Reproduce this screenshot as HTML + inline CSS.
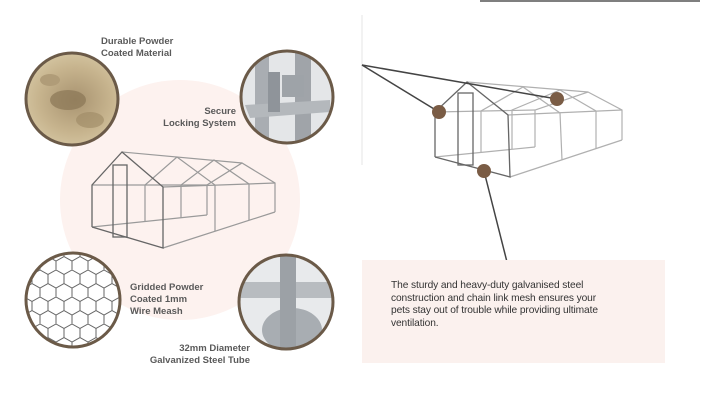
<!DOCTYPE html>
<html><head><meta charset="utf-8"><style>
html,body{margin:0;padding:0;background:#fff;}
body{width:720px;height:410px;overflow:hidden;position:relative;font-family:"Liberation Sans",sans-serif;}
.l{position:absolute;font-weight:bold;font-size:9.5px;line-height:12px;color:#5a5a5a;}
.box{position:absolute;left:362px;top:260px;width:303px;height:103px;background:#fbf1ee;}
.box p{margin:0;position:absolute;left:29px;top:20px;width:250px;font-size:10.2px;line-height:12.5px;color:#333;letter-spacing:-0.1px;}
</style></head><body>
<svg width="720" height="410" style="position:absolute;left:0;top:0">
<defs>
<clipPath id="c1"><circle cx="72" cy="99" r="46"/></clipPath>
<clipPath id="c2"><circle cx="287" cy="97" r="46"/></clipPath>
<clipPath id="c3"><circle cx="73" cy="300" r="47"/></clipPath>
<clipPath id="c4"><circle cx="286" cy="302" r="47"/></clipPath>
<radialGradient id="sand" cx="50%" cy="50%" r="55%"><stop offset="0" stop-color="#a89370"/><stop offset="0.6" stop-color="#c7b48e"/><stop offset="1" stop-color="#d9cba8"/></radialGradient>
<pattern id="hex" width="16" height="27" patternUnits="userSpaceOnUse"><path d="M0 4.5 L8 0 L16 4.5 L16 13.5 L8 18 L0 13.5 Z M8 18 L8 27" fill="none" stroke="#666" stroke-width="1"/></pattern>
</defs>
<circle cx="180" cy="200" r="120" fill="#fdf2ef"/>
<g clip-path="url(#c1)"><rect x="20" y="50" width="110" height="100" fill="url(#sand)"/>
<ellipse cx="68" cy="100" rx="18" ry="10" fill="#8a7656" opacity=".7"/><ellipse cx="50" cy="80" rx="10" ry="6" fill="#b09c78"/><ellipse cx="90" cy="120" rx="14" ry="8" fill="#9c8864" opacity=".6"/></g>
<circle cx="72" cy="99" r="46" fill="none" stroke="#6b5a48" stroke-width="3"/>
<g clip-path="url(#c2)"><rect x="235" y="45" width="110" height="110" fill="#e4e6e8"/>
<rect x="255" y="45" width="14" height="110" fill="#a9adb2"/><rect x="295" y="45" width="16" height="110" fill="#a0a4a9"/>
<rect x="282" y="75" width="22" height="22" fill="#9ea3a8"/><path d="M245 105 L330 100 L330 112 L250 118 Z" fill="#b4b8bc"/><rect x="268" y="72" width="12" height="40" fill="#8f949a"/></g>
<circle cx="287" cy="97" r="46" fill="none" stroke="#6b5a48" stroke-width="3"/>
<g clip-path="url(#c3)"><rect x="24" y="250" width="100" height="100" fill="#fff"/><rect x="24" y="250" width="100" height="100" fill="url(#hex)"/></g>
<circle cx="73" cy="300" r="47" fill="none" stroke="#6b5a48" stroke-width="3"/>
<g clip-path="url(#c4)"><rect x="237" y="253" width="100" height="100" fill="#e8eaec"/>
<ellipse cx="292" cy="330" rx="30" ry="22" fill="#a8adb2"/><rect x="237" y="282" width="100" height="16" fill="#b8bcc0"/><rect x="280" y="253" width="16" height="100" fill="#9ca1a6"/></g>
<circle cx="286" cy="302" r="47" fill="none" stroke="#6b5a48" stroke-width="3"/>

<g fill="none" stroke="#9a9a9a" stroke-width="1.2">
<polyline points="145,221 145,185 177,157 215,185 215,231"/>
<polyline points="181,218 181,185 214,160 249,184 249,220"/>
<polyline points="207,215 207,185 242,163 275,183 275,212"/>
<line x1="122" y1="152" x2="242" y2="163"/><line x1="92" y1="185" x2="207" y2="185"/>
<line x1="163" y1="187" x2="275" y2="183"/><line x1="92" y1="227" x2="207" y2="215"/><line x1="163" y1="248" x2="275" y2="212"/>
</g>
<g fill="none" stroke="#666" stroke-width="1.3">
<polyline points="92,227 92,185 122,152 163,187 163,248 92,227"/>
<rect x="113" y="165" width="14" height="72"/>
</g>
<line x1="362" y1="15" x2="362" y2="165" stroke="#f2f2f2" stroke-width="2"/>
<line x1="480" y1="1" x2="700" y2="1" stroke="#555" stroke-width="1.5"/>
<g fill="none" stroke="#b0b0b0" stroke-width="1.2">
<polyline points="481,152 481,111 523,87 560,113 562,160"/>
<polyline points="512,149 512,110 560,90 596,111 596,149"/>
<polyline points="535,147 535,110 588,92 622,110 622,140"/>
<line x1="467" y1="82" x2="588" y2="92"/><line x1="435" y1="112" x2="535" y2="110"/>
<line x1="508" y1="115" x2="622" y2="110"/><line x1="435" y1="157" x2="535" y2="147"/><line x1="510" y1="177" x2="622" y2="140"/>
</g>
<g fill="none" stroke="#666" stroke-width="1.3">
<polyline points="435,157 435,112 467,82 508,115 510,177 435,157"/>
<rect x="458" y="93" width="15" height="72"/>
</g>
<g stroke="#444" stroke-width="1.5">
<line x1="362" y1="65" x2="439" y2="112"/><line x1="362" y1="65" x2="557" y2="99"/><line x1="484" y1="171" x2="507" y2="262"/>
</g>
<g fill="#7a5c45"><circle cx="439" cy="112" r="7"/><circle cx="557" cy="99" r="7"/><circle cx="484" cy="171" r="7"/></g>
</svg>
<div class="l" style="left:101px;top:36px;text-align:left">Durable Powder<br>Coated Material</div>
<div class="l" style="left:130px;top:106px;width:106px;text-align:right">Secure<br>Locking System</div>
<div class="l" style="left:130px;top:282px">Gridded Powder<br>Coated 1mm<br>Wire Meash</div>
<div class="l" style="left:120px;top:343px;width:130px;text-align:right">32mm Diameter<br>Galvanized Steel Tube</div>
<div class="box"><p>The sturdy and heavy-duty galvanised steel<br>construction and chain link mesh ensures your<br>pets stay out of trouble while providing ultimate<br>ventilation.</p></div>
</body></html>
